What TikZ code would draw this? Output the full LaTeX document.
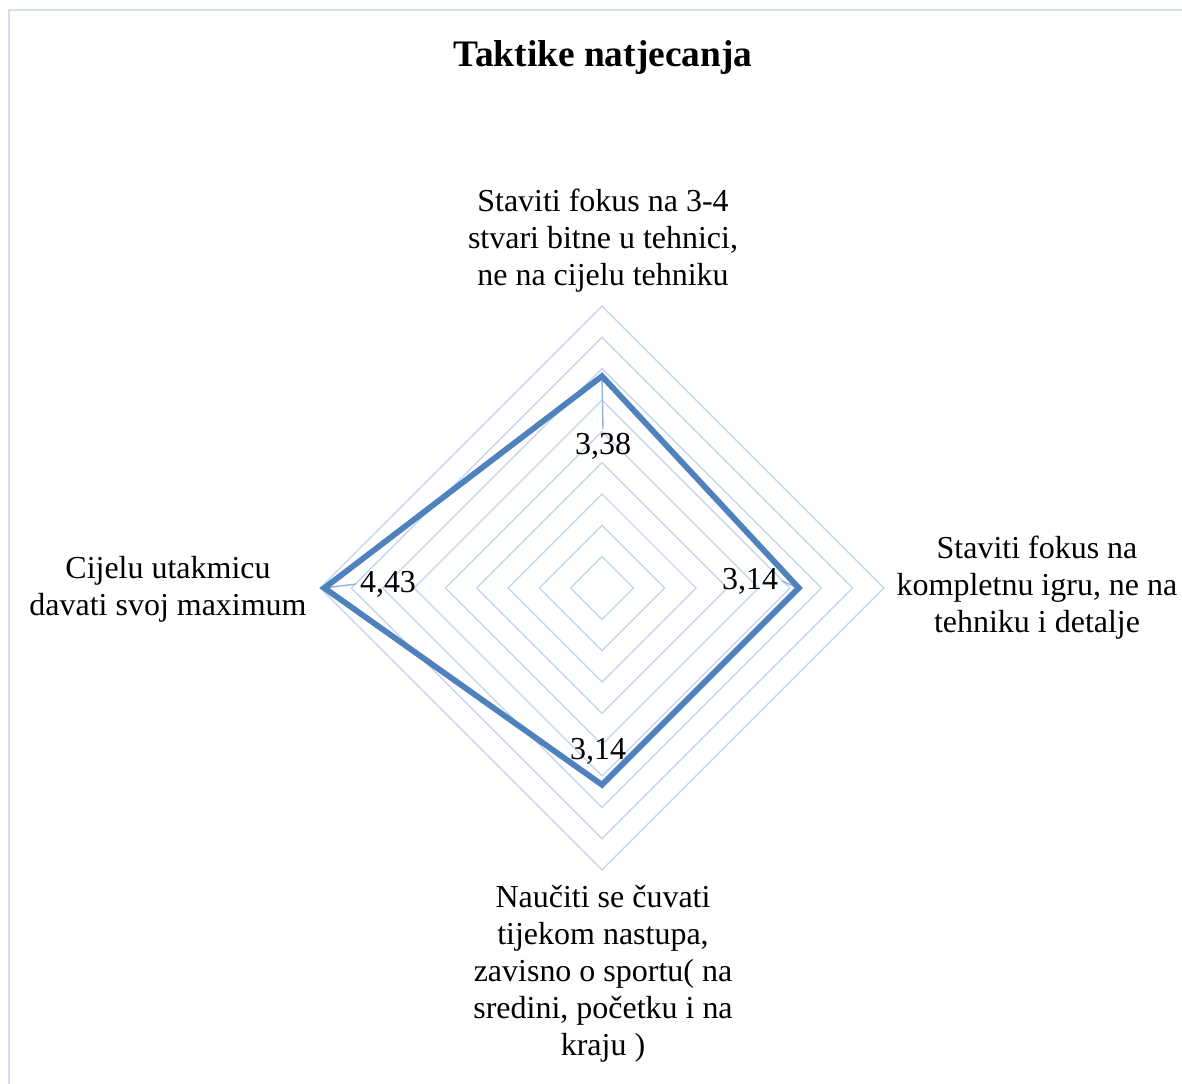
\documentclass[tikz,border=0pt]{standalone}
\usepackage{fontspec}
\setmainfont{Liberation Serif}
\usepackage{tikz}
\definecolor{gridblue}{RGB}{196,215,239}
\definecolor{seriesblue}{RGB}{79,129,189}
\definecolor{leaderblue}{RGB}{149,179,215}
\definecolor{frameblue}{RGB}{210,224,240}

\begin{document}
\begin{tikzpicture}[x=0.02cm,y=-0.02cm]
	\useasboundingbox (0,0) rectangle (1182,1084);
	\draw[frameblue, line width=1.1pt] (1182,10) -- (9,10) -- (9,1084);

	\node[font=\bfseries\fontsize{21.3}{25}\selectfont] (title) at (603,58) {Taktike natjecanja};

	% grid rings, 0.5 step up to 4.5
	\begin{scope}[gridblue, line width=0.8pt]
		\foreach \r in {1,...,9}
			\draw (602,588) ++(0,-\r*31.33) -- ++(\r*31.33,\r*31.33) -- ++(-\r*31.33,\r*31.33) -- ++(-\r*31.33,-\r*31.33) -- cycle;
	\end{scope}

	% data points
	\coordinate (p1) at (602,376.2);
	\coordinate (p2) at (798.8,588);
	\coordinate (p3) at (602,784.8);
	\coordinate (p4) at (324.4,588);

	\begin{scope}[every node/.style={align=center, font=\fontsize{18.2}{21}\selectfont}]
		\node (a1) at (603,241) {Staviti fokus na 3-4\\stvari bitne u tehnici,\\ne na cijelu tehniku};
		\node (a2) at (1037,588) {Staviti fokus na\\kompletnu igru, ne na\\tehniku i detalje};
		\node (a3) at (603,974) {Naučiti se čuvati\\tijekom nastupa,\\zavisno o sportu( na\\sredini, početku i na\\kraju )};
		\node (a4) at (168,589) {Cijelu utakmicu\\davati svoj maximum};
	\end{scope}

	\begin{scope}[every node/.style={inner sep=2pt, font=\fontsize{18.2}{21}\selectfont}]
		\node (d1) at (603,446) {3,38};
		\node (d2) at (750,581) {3,14};
		\node (d3) at (598,751) {3,14};
		\node (d4) at (388,584) {4,43};
	\end{scope}

	% leader lines
	\begin{scope}[leaderblue, line width=0.8pt]
		\draw (d1.north) -- (p1);
		\draw (d2.east) -- (p2);
		\draw (d4.west) -- (p4);
	\end{scope}

	\draw[seriesblue, line width=3.3pt] (p1) -- (p2) -- (p3) -- (p4) -- cycle;
\end{tikzpicture}
\end{document}
